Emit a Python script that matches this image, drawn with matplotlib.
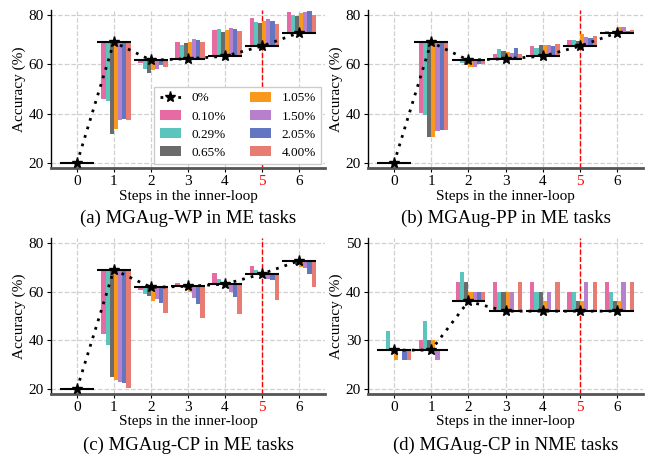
import matplotlib
matplotlib.use("Agg")
import matplotlib.pyplot as plt
from matplotlib.lines import Line2D
from matplotlib.patches import Patch
import numpy as np

plt.rcParams['font.family'] = ['Liberation Serif', 'DejaVu Serif']

steps = [0, 1, 2, 3, 4, 5, 6]
series_labels = ['0.10%', '0.29%', '0.65%', '1.05%', '1.50%', '2.05%', '4.00%']
colors = ['#E66BA3', '#5BC5BD', '#6B6B6B', '#F8981D', '#B87FCB', '#6376C2', '#E87B72']

# (a) MGAug-WP in ME tasks
base_a = [20, 69.0, 61.7, 62.3, 63.3, 67.4, 72.8]
vals_a = [
    [20, 46.0, 60.4, 69.0, 74.0, 78.9, 81.3],  # 0.10%
    [20, 45.0, 58.0, 67.8, 74.4, 77.3, 80.1],  # 0.29%
    [20, 32.0, 56.7, 68.8, 73.2, 76.9, 79.7],  # 0.65%
    [20, 33.7, 57.9, 69.0, 74.0, 77.7, 80.9],  # 1.05%
    [20, 37.3, 58.3, 70.3, 74.9, 78.5, 81.3],  # 1.50%
    [20, 38.0, 59.9, 69.9, 74.4, 77.7, 81.7],  # 2.05%
    [20, 37.3, 59.1, 69.0, 73.6, 76.5, 80.1],  # 4.00%
]

# (b) MGAug-PP in ME tasks
base_b = [20, 69.0, 61.7, 62.3, 63.3, 67.4, 72.8]
vals_b = [
    [20, 40.4, 61.5, 64.3, 67.6, 70.0, 73.6],
    [20, 39.6, 60.4, 66.3, 66.7, 70.0, 73.2],
    [20, 30.8, 59.6, 65.5, 68.0, 69.6, 72.9],
    [20, 30.8, 59.1, 65.1, 68.0, 72.4, 75.3],
    [20, 33.1, 59.1, 64.7, 68.0, 71.2, 75.3],
    [20, 33.4, 60.2, 66.7, 67.6, 70.8, 73.6],
    [20, 33.4, 60.2, 64.3, 68.4, 71.6, 74.0],
]

# (c) MGAug-CP in ME tasks
base_c = [20, 69.0, 61.8, 62.2, 63.1, 67.3, 72.7]
vals_c = [
    [20, 42.8, 60.7, 63.5, 67.6, 70.4, 72.9],
    [20, 38.0, 59.0, 62.6, 65.1, 69.1, 72.7],
    [20, 25.0, 58.2, 61.5, 63.2, 67.1, 71.0],
    [20, 23.8, 56.2, 59.9, 63.0, 67.6, 70.3],
    [20, 23.0, 57.0, 57.4, 59.9, 65.3, 69.6],
    [20, 22.6, 55.4, 55.0, 57.8, 64.7, 67.2],
    [20, 20.5, 51.3, 49.3, 50.9, 56.6, 61.9],
]

# (d) MGAug-CP in NME tasks
base_d = [28, 28, 38, 36, 36, 36, 36]
vals_d = [
    [28, 30, 42, 42, 42, 40, 42],
    [32, 34, 44, 40, 40, 40, 40],
    [28, 30, 42, 40, 40, 38, 38],
    [26, 30, 40, 40, 38, 38, 38],
    [28, 26, 40, 40, 40, 42, 42],
    [26, 28, 40, 36, 36, 36, 36],
    [26, 28, 40, 42, 42, 42, 42],
]

panels = [
    (base_a, vals_a, (18, 82), [20, 40, 60, 80], '(a) MGAug-WP in ME tasks'),
    (base_b, vals_b, (18, 82), [20, 40, 60, 80], '(b) MGAug-PP in ME tasks'),
    (base_c, vals_c, (18, 82), [20, 40, 60, 80], '(c) MGAug-CP in ME tasks'),
    (base_d, vals_d, (19, 51), [20, 30, 40, 50], '(d) MGAug-CP in NME tasks'),
]

fig = plt.figure(figsize=(6.57, 4.57), dpi=100)
rects = [
    [0.0776, 0.632, 0.417, 0.346],
    [0.560, 0.632, 0.419, 0.346],
    [0.0776, 0.138, 0.417, 0.341],
    [0.560, 0.138, 0.419, 0.341],
]
title_y = [-0.316, -0.316, -0.327, -0.327]

w = 0.1125
x = np.array(steps, dtype=float)
for idx, (base, vals, ylim, yt, title) in enumerate(panels):
    ax = fig.add_axes(rects[idx])
    base = np.array(base, dtype=float)
    for i, (v, c) in enumerate(zip(vals, colors)):
        v = np.array(v, dtype=float)
        xpos = x - 0.45 + (i + 1.5) * w
        ax.bar(xpos, v - base, bottom=base, width=w, color=c, zorder=2,
               linewidth=0)
    ax.hlines(base, x - 0.45, x + 0.45, colors='black', linewidth=1.5, zorder=3)
    ax.plot(x, base, linestyle=(0, (1, 2.2)), color='black', linewidth=2,
            marker='*', markersize=8, zorder=4)
    ax.axvline(5, color='red', linestyle='--', linewidth=1, zorder=1.5)
    ax.set_xlim(-0.7, 6.7)
    ax.set_ylim(*ylim)
    ax.set_yticks(yt)
    ax.set_xticks(steps)
    ax.grid(True, linestyle='--', color='#d0d0d0', linewidth=0.9, zorder=0)
    ax.set_axisbelow(True)
    for s in ['top', 'right']:
        ax.spines[s].set_visible(False)
    ax.spines['left'].set_color('black')
    ax.spines['left'].set_linewidth(1.0)
    ax.spines['bottom'].set_color('#555555')
    ax.spines['bottom'].set_linewidth(2.0)
    ax.tick_params(axis='both', labelsize=11, length=3, width=0.8, pad=2)
    ax.get_xticklabels()[5].set_color('red')
    ax.set_xlabel('Steps in the inner-loop', fontsize=11, labelpad=1)
    ax.set_ylabel('Accuracy (%)', fontsize=11, labelpad=2)
    ax.text(0.5, title_y[idx], title, transform=ax.transAxes, ha='center',
            va='center', fontsize=13.5)
    if idx == 0:
        handles = [Line2D([0], [0], color='black', linestyle=(0, (1, 2.2)),
                          linewidth=2, marker='*', markersize=8)]
        handles += [Patch(facecolor=c, edgecolor='none') for c in colors]
        labels = ['0%'] + series_labels
        ax.legend(handles, labels, ncol=2, loc='lower right', fontsize=9.5,
                  frameon=True, edgecolor='#cccccc', framealpha=1,
                  handlelength=1.6, handleheight=0.8, columnspacing=1.8,
                  borderaxespad=0.3, labelspacing=0.42, handletextpad=0.8,
                  fancybox=False, borderpad=0.4)

fig.savefig('out.png', dpi=100)
